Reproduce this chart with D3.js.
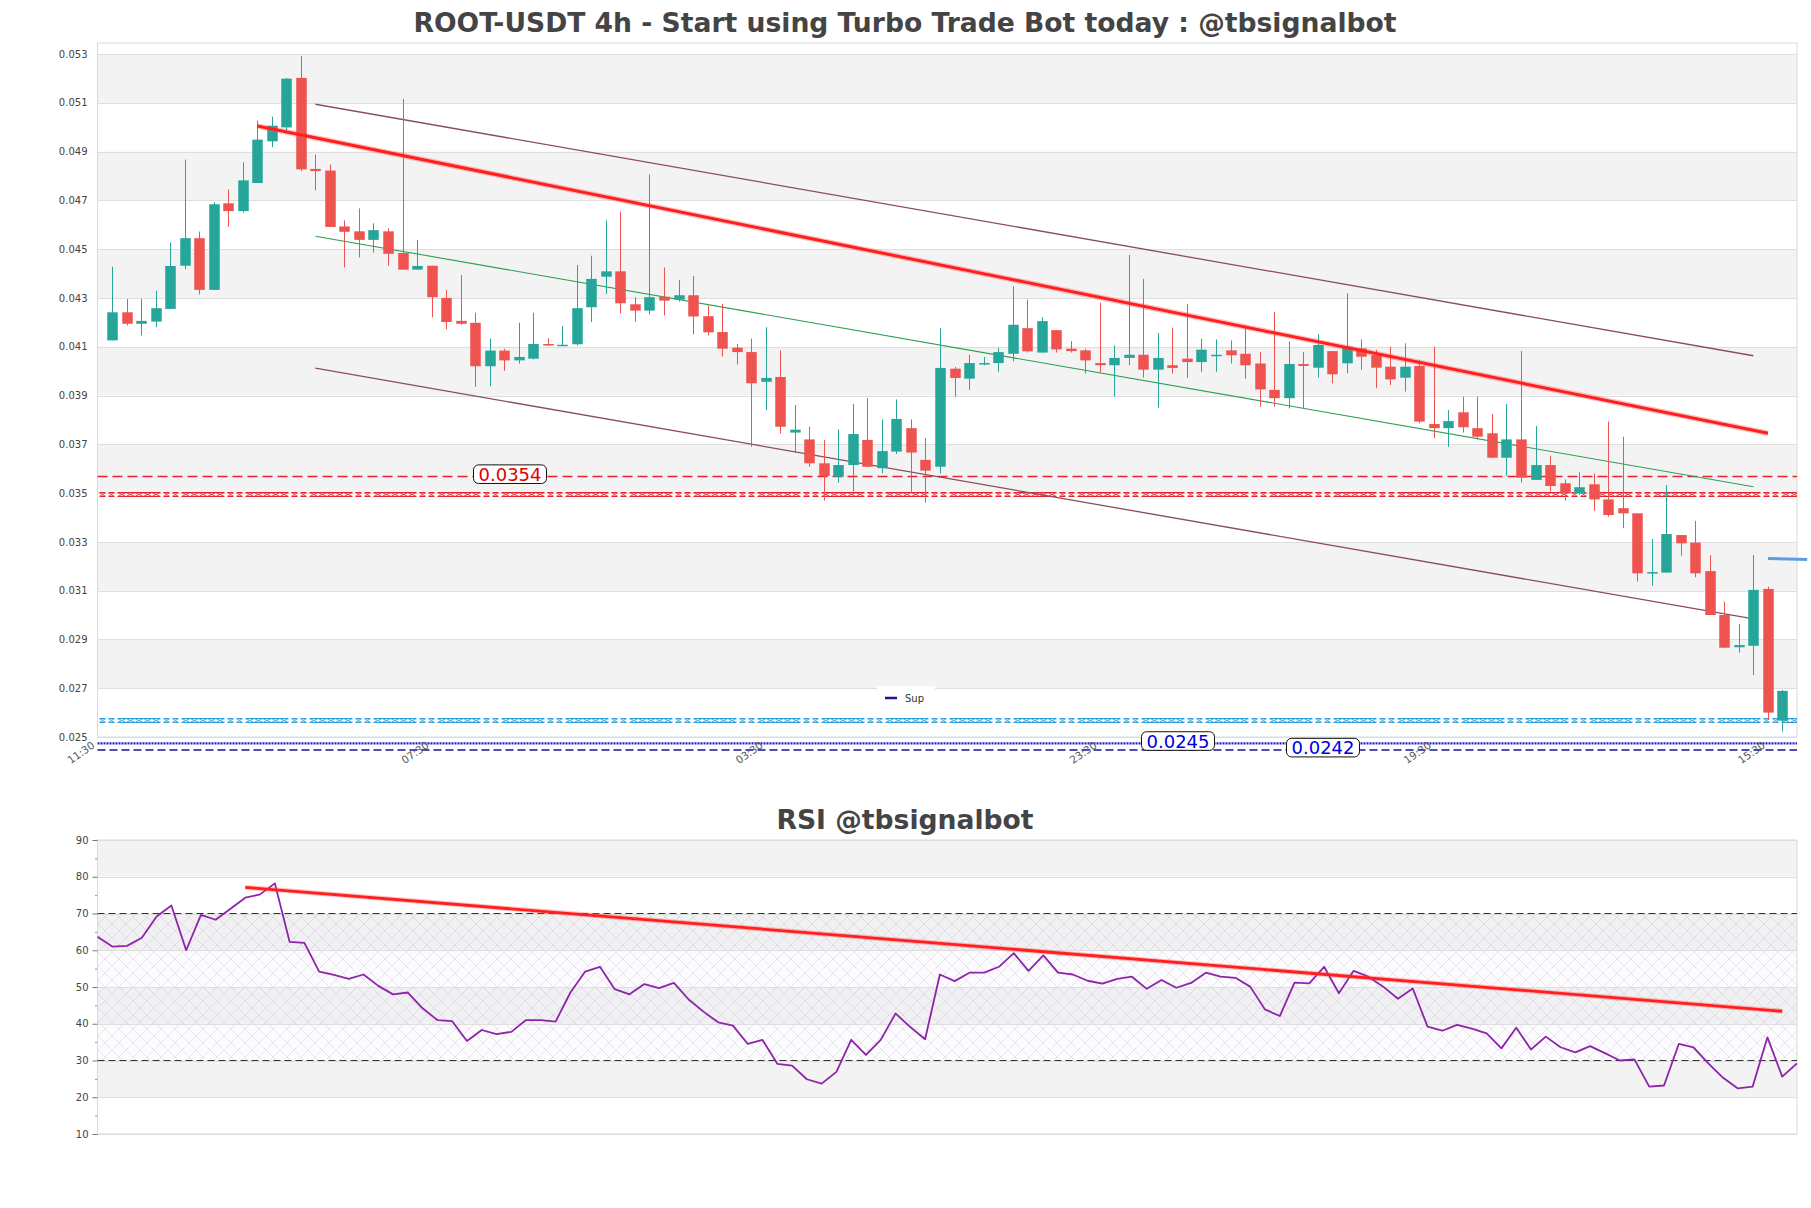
<!DOCTYPE html>
<html><head><meta charset="utf-8">
<script src="https://cdn.jsdelivr.net/npm/d3@7"></script>
<style>
body{margin:0;background:#fff;}
text{font-family:"DejaVu Sans",sans-serif;}
</style>
</head><body>
<svg id="c" width="1811" height="1208"></svg>
<script>
// ---------------- DATA ----------------
const opens=[0.04126,0.04241,0.04194,0.04203,0.04255,0.04432,0.04545,0.04333,0.04688,0.04656,
0.04771,0.04942,0.04999,0.05202,0.04829,0.04822,0.04593,0.04573,0.04538,0.04573,
0.04484,0.04416,0.04432,0.04300,0.04206,0.04198,0.04020,0.04084,0.04044,0.04051,
0.04111,0.04105,0.04110,0.04262,0.04387,0.04409,0.04274,0.04248,0.04305,0.04293,
0.04311,0.04225,0.04160,0.04096,0.04078,0.03956,0.03976,0.03748,0.03720,0.03622,
0.03567,0.03615,0.03718,0.03602,0.03670,0.03766,0.03636,0.03608,0.04010,0.03969,
0.04030,0.04033,0.04071,0.04176,0.04076,0.04168,0.04092,0.04085,0.04033,0.04024,
0.04054,0.04067,0.04006,0.04024,0.04051,0.04037,0.04062,0.04085,0.04071,0.04031,
0.03923,0.03889,0.04029,0.04014,0.04082,0.04032,0.04093,0.04066,0.04018,0.03973,
0.04021,0.03783,0.03766,0.03831,0.03766,0.03745,0.03645,0.03720,0.03554,0.03615,
0.03540,0.03499,0.03536,0.03474,0.03438,0.03417,0.03171,0.03174,0.03328,0.03297,
0.03180,0.03000,0.02868,0.02874,0.03107,0.02567];
const highs=[0.04428,0.04296,0.04296,0.04329,0.04527,0.04867,0.04572,0.04693,0.04745,0.04856,
0.05027,0.05043,0.05202,0.05292,0.04888,0.04847,0.04618,0.04667,0.04606,0.04586,
0.05116,0.04537,0.04432,0.04333,0.04394,0.04239,0.04133,0.04092,0.04198,0.04239,
0.04135,0.04184,0.04435,0.04473,0.04618,0.04654,0.04303,0.04806,0.04425,0.04373,
0.04390,0.04269,0.04276,0.04112,0.04133,0.04180,0.04085,0.03861,0.03772,0.03718,
0.03761,0.03865,0.03889,0.03802,0.03884,0.03802,0.03725,0.04176,0.04017,0.04067,
0.04058,0.04095,0.04348,0.04293,0.04221,0.04168,0.04123,0.04092,0.04280,0.04105,
0.04476,0.04378,0.04156,0.04178,0.04276,0.04133,0.04130,0.04126,0.04187,0.04078,
0.04242,0.04122,0.04078,0.04152,0.04082,0.04319,0.04130,0.04087,0.04100,0.04114,
0.04045,0.04100,0.03840,0.03895,0.03895,0.03824,0.03865,0.04082,0.03775,0.03652,
0.03556,0.03585,0.03581,0.03793,0.03731,0.03417,0.03311,0.03533,0.03328,0.03386,
0.03246,0.03055,0.02963,0.03246,0.03116,0.02693];
const lows=[0.04126,0.04187,0.04146,0.04180,0.04255,0.04418,0.04314,0.04333,0.04591,0.04650,
0.04771,0.04918,0.04972,0.04820,0.04741,0.04591,0.04425,0.04466,0.04486,0.04432,
0.04416,0.04416,0.04221,0.04171,0.04190,0.03935,0.03938,0.04001,0.04031,0.04048,
0.04103,0.04105,0.04105,0.04201,0.04316,0.04237,0.04203,0.04232,0.04228,0.04285,
0.04150,0.04146,0.04060,0.04027,0.03690,0.03840,0.03745,0.03664,0.03608,0.03469,
0.03543,0.03506,0.03606,0.03581,0.03660,0.03500,0.03461,0.03581,0.03895,0.03923,
0.04024,0.03997,0.04040,0.04076,0.04076,0.04076,0.04076,0.03990,0.03994,0.03895,
0.04024,0.03973,0.03850,0.03990,0.03972,0.03997,0.03997,0.04031,0.03969,0.03854,
0.03854,0.03847,0.03847,0.03973,0.03950,0.03991,0.04005,0.03930,0.03943,0.03916,
0.03786,0.03725,0.03690,0.03748,0.03720,0.03643,0.03571,0.03543,0.03554,0.03506,
0.03469,0.03492,0.03427,0.03403,0.03356,0.03137,0.03120,0.03174,0.03243,0.03155,
0.03000,0.02864,0.02846,0.02754,0.02570,0.02522];
const closes=[0.04241,0.04194,0.04206,0.04258,0.04431,0.04545,0.04333,0.04684,0.04656,0.04782,
0.04949,0.05006,0.05199,0.04827,0.04820,0.04591,0.04571,0.04538,0.04578,0.04481,
0.04416,0.04431,0.04303,0.04201,0.04194,0.04020,0.04084,0.04044,0.04058,0.04111,
0.04105,0.04108,0.04258,0.04378,0.04409,0.04278,0.04248,0.04303,0.04289,0.04311,
0.04224,0.04159,0.04092,0.04078,0.03950,0.03972,0.03772,0.03760,0.03622,0.03570,
0.03615,0.03742,0.03608,0.03672,0.03804,0.03666,0.03592,0.04013,0.03972,0.04033,
0.04033,0.04078,0.04190,0.04081,0.04205,0.04089,0.04082,0.04044,0.04024,0.04054,
0.04067,0.04006,0.04054,0.04013,0.04037,0.04088,0.04067,0.04065,0.04024,0.03925,
0.03889,0.04029,0.04021,0.04107,0.03987,0.04100,0.04059,0.04014,0.03966,0.04018,
0.03793,0.03766,0.03795,0.03770,0.03731,0.03645,0.03720,0.03563,0.03615,0.03529,
0.03499,0.03524,0.03474,0.03410,0.03417,0.03171,0.03176,0.03332,0.03294,0.03171,
0.03000,0.02866,0.02877,0.03103,0.02600,0.02689];

const rsiValues=[63.7,61,61.2,63.4,69.2,72.2,60,69.6,68.3,71.3,
74.3,75.2,78.2,62.3,62,54.2,53.3,52.2,53.4,50.3,
48,48.5,44.2,41,40.7,35.3,38.3,37.2,37.8,41,
41,40.6,48.5,54.2,55.5,49.4,48,50.8,49.7,51.1,
46.6,43.3,40.4,39.5,34.5,35.6,29.1,28.6,24.9,23.7,
26.9,35.6,31.5,35.6,42.8,39.1,35.8,53.4,51.6,53.9,
53.9,55.5,59.2,54.4,58.6,53.9,53.4,51.7,50.9,52.2,
52.8,49.5,51.9,49.8,51.1,53.9,52.8,52.5,50.1,43.9,
42.1,51.2,51,55.5,48.3,54.4,52.8,50.1,46.8,49.6,
39.2,38.1,39.7,38.7,37.4,33.3,38.9,33,36.5,33.6,
32.2,33.9,32,30,30.3,22.9,23.2,34.5,33.6,29.2,
25.3,22.4,22.9,36.3,25.6,29.2];

const priceTicks=[0.025,0.027,0.029,0.031,0.033,0.035,0.037,0.039,0.041,0.043,0.045,0.047,0.049,0.051,0.053];
const rsiTicks=[10,20,30,40,50,60,70,80,90];
const rsiMinorTicks=[15,25,35,45,55,65,75,85];
const timeLabels=["11:30","07:30","03:30","23:30","19:30","15:30"];
const timeLabelIdx=[0,23,46,69,92,115];

// trend lines [startIndex, startValue, endIndex, endValue]
const mainTrend=[10,0.05005,114,0.03745];
const channelUpper=[14,0.05094,113,0.04063];
const channelMid=[14,0.04553,113,0.03526];
const channelLower=[14,0.04012,113,0.02984];
const rsiTrend=[10,77.1,114,43.4];

// horizontal levels
const resistLevel=0.03568, resistLabel="0.0354";
const resistZone=0.03494;
const supportZone=0.02566;
const supDotted=0.02474, supDottedLabel="0.0245";
const supDashed=0.02447, supDashedLabel="0.0242";
const lastSignal=[114,0.03232,116.7,0.03228];
const rsiLevels=[70,30];
const legendLabel="Sup";

const titleMain="ROOT-USDT 4h - Start using Turbo Trade Bot today : @tbsignalbot";
const titleRsi="RSI @tbsignalbot";

// ---------------- LAYOUT ----------------
const svg=d3.select("#c");
const L=97.5,R=1797;
const P={t:43,b:737};
const RP={t:840,b:1134};
const x=d3.scaleLinear().domain([-1,116]).range([L,R]);
const y=d3.scaleLinear().domain([0.025,0.053]).range([737,54]);
const rx=d3.scaleLinear().domain([0,115]).range([L,R]);
const ry=d3.scaleLinear().domain([10,90]).range([1134,840]);

svg.append("rect").attr("width",1811).attr("height",1208).attr("fill","#fff");

const defs=svg.append("defs");
function zonePattern(id,color,top){
  const p=defs.append("pattern").attr("id",id).attr("patternUnits","userSpaceOnUse")
    .attr("width",64).attr("height",7).attr("x",L+2).attr("y",top);
  let d="M0,1.5 H6 M0,5.5 H6 M0,1.5 L6,5.5 M0,5.5 L6,1.5 ";
  d+="M9,1.5 H15 M9,5.5 H15 M9,1.5 L15,5.5 M9,5.5 L15,1.5 ";
  d+="M18,1.5 H61 M18,5.5 H61 ";
  for(let k=18;k<60;k+=8.6){ d+=`M${k},1.5 L${k+8.6},5.5 M${k},5.5 L${k+8.6},1.5 `; }
  p.append("path").attr("d",d).attr("stroke",color).attr("stroke-width",1).attr("fill","none");
}
const zrTop=Math.round(y(resistZone)-3.5), zbTop=Math.round(y(supportZone)-3.5);
zonePattern("zr","#e8232b",zrTop);
zonePattern("zb","#2f9fdc",zbTop);
const hp=defs.append("pattern").attr("id","hatch").attr("patternUnits","userSpaceOnUse")
  .attr("width",14).attr("height",14);
hp.append("path").attr("d","M0,0 L14,14 M14,0 L0,14").attr("stroke","rgba(165,150,180,0.32)").attr("stroke-width",0.7);

// ---------- Titles ----------
svg.append("text").attr("x",905).attr("y",32).attr("text-anchor","middle")
  .attr("font-size",26.6).attr("font-weight","bold").attr("fill","#444").text(titleMain);
svg.append("text").attr("x",905).attr("y",829).attr("text-anchor","middle")
  .attr("font-size",26.6).attr("font-weight","bold").attr("fill","#444").text(titleRsi);

// ---------- Main panel background ----------
const gMain=svg.append("g");
for(let k=0;k<priceTicks.length-1;k++){
  if(k%2===1){
    gMain.append("rect").attr("x",L).attr("width",R-L)
      .attr("y",y(priceTicks[k+1])).attr("height",y(priceTicks[k])-y(priceTicks[k+1]))
      .attr("fill","#f3f3f3");
  }
}
gMain.selectAll("line.grid").data(priceTicks).enter().append("line")
  .attr("x1",L).attr("x2",R).attr("y1",d=>Math.round(y(d))+0.5).attr("y2",d=>Math.round(y(d))+0.5)
  .attr("stroke","#dedede").attr("stroke-width",1);
gMain.append("rect").attr("x",L).attr("y",P.t).attr("width",R-L).attr("height",P.b-P.t)
  .attr("fill","none").attr("stroke","#dadada").attr("stroke-width",1);

// y axis
const ya=svg.append("g").attr("transform",`translate(${L},0)`)
  .call(d3.axisLeft(y).tickValues(priceTicks).tickFormat(d3.format(".3f")).tickSize(0).tickPadding(10));
ya.select(".domain").remove();
ya.selectAll("text").attr("font-size",10).attr("fill","#444").attr("font-family","DejaVu Sans");

// x axis labels
const xa=svg.append("g").attr("transform",`translate(0,${P.b})`)
  .call(d3.axisBottom(x).tickValues(timeLabelIdx).tickFormat((d,i)=>timeLabels[i]).tickSize(0));
xa.select(".domain").remove();
xa.selectAll("text").attr("x",0).attr("y",0).attr("dy",0)
  .attr("transform","translate(-17,10) rotate(-35)").attr("text-anchor","end")
  .attr("font-size",10.5).attr("fill","#555").attr("font-family","DejaVu Sans");

// ---------- Zones / levels ----------
gMain.append("rect").attr("x",L).attr("width",R-L).attr("y",zrTop).attr("height",7).attr("fill","url(#zr)");
gMain.append("rect").attr("x",L).attr("width",R-L).attr("y",zbTop).attr("height",7).attr("fill","url(#zb)");
gMain.append("line").attr("x1",L).attr("x2",R).attr("y1",y(resistLevel)).attr("y2",y(resistLevel))
  .attr("stroke","#e8232b").attr("stroke-width",1.3).attr("stroke-dasharray","10,5");
gMain.append("line").attr("x1",L).attr("x2",R).attr("y1",y(supDotted)).attr("y2",y(supDotted))
  .attr("stroke","#1c1cc8").attr("stroke-width",2.2).attr("stroke-dasharray","2,1");
gMain.append("line").attr("x1",L).attr("x2",R).attr("y1",y(supDashed)).attr("y2",y(supDashed))
  .attr("stroke","#12129a").attr("stroke-width",1.6).attr("stroke-dasharray","8,4");

// ---------- Trend lines ----------
function seg(g,t,sx,sy,color,w,opacity){
  g.append("line").attr("x1",sx(t[0])).attr("y1",sy(t[1])).attr("x2",sx(t[2])).attr("y2",sy(t[3]))
    .attr("stroke",color).attr("stroke-width",w).attr("opacity",opacity||1);
}
seg(gMain,channelUpper,x,y,"#8a4d5e",1.3);
seg(gMain,channelLower,x,y,"#8a4d5e",1.3);
seg(gMain,channelMid,x,y,"#2e9e55",1.1);

// ---------- Candles ----------
const candles=opens.map((o,i)=>({i,o,h:highs[i],l:lows[i],c:closes[i]}));
const gC=gMain.append("g");
const bw=10.5;
gC.selectAll("line.w").data(candles).enter().append("line")
  .attr("x1",d=>Math.round(x(d.i))+0.5).attr("x2",d=>Math.round(x(d.i))+0.5)
  .attr("y1",d=>y(d.h)).attr("y2",d=>y(d.l))
  .attr("stroke",d=>d.c>=d.o?"#26a69a":"#ef5350").attr("stroke-width",1);
gC.selectAll("rect.b").data(candles).enter().append("rect")
  .attr("x",d=>Math.round(x(d.i))+0.5-bw/2).attr("width",bw)
  .attr("y",d=>y(Math.max(d.o,d.c)))
  .attr("height",d=>Math.max(1.5,Math.abs(y(d.o)-y(d.c))))
  .attr("fill",d=>d.c>=d.o?"#26a69a":"#ef5350");

seg(gMain,mainTrend,x,y,"rgba(255,80,80,0.35)",5.5);
seg(gMain,mainTrend,x,y,"#ff1f1f",3);
seg(gMain,lastSignal,x,y,"#5b9ee0",3);

// ---------- Level labels ----------
function levelLabel(cx,v,txt,color){
  const g=svg.append("g");
  const t=g.append("text").attr("x",cx).attr("y",y(v)-2.3).attr("dy","0.36em")
    .attr("text-anchor","middle").attr("font-size",18).attr("fill",color).text(txt);
  const bb=t.node().getBBox();
  g.insert("rect","text").attr("x",bb.x-5).attr("y",y(v)-2.3-9.3).attr("width",bb.width+10).attr("height",18.6)
    .attr("rx",5).attr("ry",5).attr("fill","#fff").attr("stroke","#111").attr("stroke-width",1);
}
levelLabel(510,resistLevel,resistLabel,"#e00000");
levelLabel(1178,supDotted,supDottedLabel,"#0000e0");
levelLabel(1323,supDashed,supDashedLabel,"#0000e0");

// legend
const lg=svg.append("g");
lg.append("rect").attr("x",877).attr("y",686).attr("width",58).attr("height",19).attr("fill","#fff");
lg.append("line").attr("x1",885).attr("x2",897).attr("y1",698).attr("y2",698).attr("stroke","#1a1a8c").attr("stroke-width",2.5);
lg.append("text").attr("x",905).attr("y",701.5).attr("font-size",10).attr("fill","#333").text(legendLabel);

// ---------- RSI panel ----------
const gR=svg.append("g");
for(let k=0;k<rsiTicks.length-1;k++){
  if(k%2===1){
    gR.append("rect").attr("x",L).attr("width",R-L).attr("y",ry(rsiTicks[k+1]))
      .attr("height",ry(rsiTicks[k])-ry(rsiTicks[k+1])).attr("fill","#f3f3f3");
  }
}
gR.append("rect").attr("x",L).attr("width",R-L).attr("y",ry(rsiLevels[0])).attr("height",ry(rsiLevels[1])-ry(rsiLevels[0]))
  .attr("fill","rgba(215,205,235,0.08)");
gR.append("rect").attr("x",L).attr("width",R-L).attr("y",ry(rsiLevels[0])).attr("height",ry(rsiLevels[1])-ry(rsiLevels[0]))
  .attr("fill","url(#hatch)");
gR.selectAll("line.grid").data(rsiTicks).enter().append("line")
  .attr("x1",L).attr("x2",R).attr("y1",d=>Math.round(ry(d))+0.5).attr("y2",d=>Math.round(ry(d))+0.5)
  .attr("stroke","#dedede").attr("stroke-width",1);
gR.append("rect").attr("x",L).attr("y",RP.t).attr("width",R-L).attr("height",RP.b-RP.t)
  .attr("fill","none").attr("stroke","#dadada").attr("stroke-width",1);
gR.selectAll("line.lvl").data(rsiLevels).enter().append("line")
  .attr("x1",L).attr("x2",R).attr("y1",d=>ry(d)).attr("y2",d=>ry(d))
  .attr("stroke","#333").attr("stroke-width",1.1).attr("stroke-dasharray","7,4");

const ra=svg.append("g").attr("transform",`translate(${L},0)`)
  .call(d3.axisLeft(ry).tickValues(rsiTicks).tickSize(5).tickPadding(4));
ra.select(".domain").remove();
ra.selectAll("line").attr("stroke","#777");
ra.selectAll("text").attr("font-size",10).attr("fill","#444").attr("font-family","DejaVu Sans");
const rm=svg.append("g").attr("transform",`translate(${L},0)`)
  .call(d3.axisLeft(ry).tickValues(rsiMinorTicks).tickSize(2.5).tickFormat(""));
rm.select(".domain").remove();
rm.selectAll("line").attr("stroke","#999");

const line=d3.line().x((d,i)=>rx(i)).y(d=>ry(d));
gR.append("path").datum(rsiValues).attr("d",line).attr("fill","none")
  .attr("stroke","#8e24aa").attr("stroke-width",1.8).attr("stroke-linejoin","round");
seg(gR,rsiTrend,rx,ry,"rgba(255,80,80,0.35)",5);
seg(gR,rsiTrend,rx,ry,"#ff1f1f",2.8);
</script>
</body></html>
